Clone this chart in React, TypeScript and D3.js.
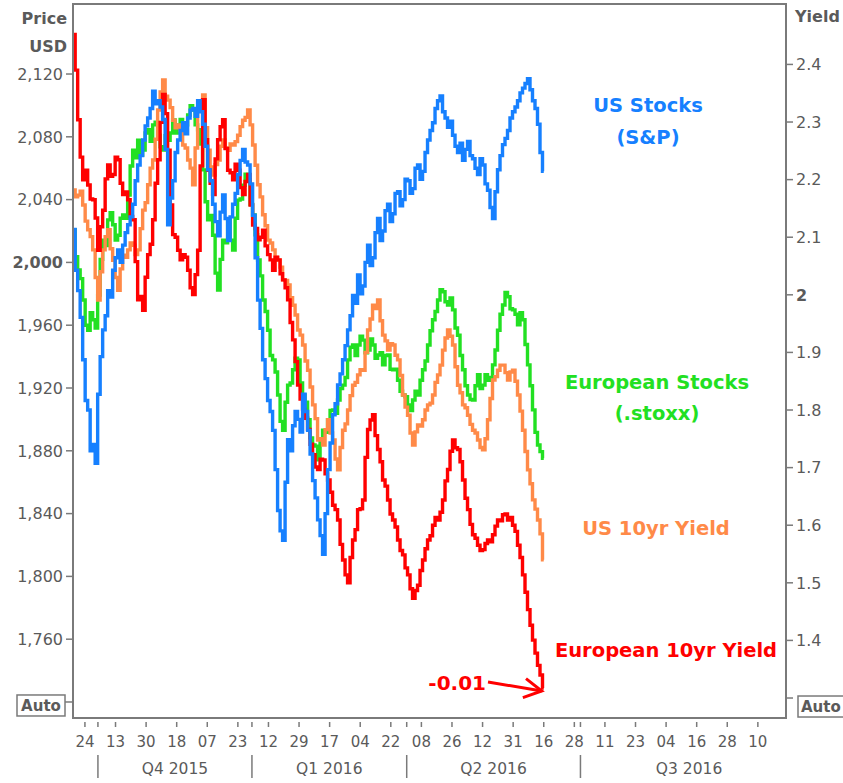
import { useEffect, useRef } from "react";
import * as d3 from "d3";

const W = 843;
const H = 783;
const plot = { left: 73, right: 786, top: 4, bottom: 718 };

// x axis is in "tick units": each labelled tick is one step
const xTickLabels = ["24", "13", "30", "18", "07", "23", "12", "29", "17", "04", "22", "08", "26", "12", "31", "16", "28", "11", "23", "04", "16", "28", "10"];
const xDomain = [-0.39, 22.92];
const quarterBreaks = [0.425, 5.46, 10.52, 16.2];
const quarterLabels = ["Q4 2015", "Q1 2016", "Q2 2016", "Q3 2016"];
const quarterEnd = 23.3;
const seriesStart = -0.36;
const seriesEnd = 15.0;

const priceTicks = [2120, 2080, 2040, 2000, 1960, 1920, 1880, 1840, 1800, 1760];
const priceAuto = 1720;
const yieldTicks = [2.4, 2.3, 2.2, 2.1, 2.0, 1.9, 1.8, 1.7, 1.6, 1.5, 1.4];
const yieldAuto = 1.3;

// S&P 500 (left axis, USD)
const usStocks = [
  2021, 1995, 1982, 1965, 1938, 1912, 1906, 1880, 1884, 1872,
  1916, 1940, 1957, 1966, 1982, 1978, 1995, 2003, 2008, 2000,
  2011, 2019, 2024, 2029, 2037, 2052, 2062, 2068, 2078, 2087,
  2092, 2098, 2109, 2101, 2103, 2099, 2091, 2072, 2024, 2041,
  2052, 2070, 2078, 2084, 2089, 2082, 2092, 2097, 2098, 2093,
  2103, 2096, 2088, 2074, 2059, 2052, 2037, 2026, 2017, 2032,
  2043, 2028, 2014, 2029, 2037, 2044, 2056, 2065, 2072, 2064,
  2062, 2050, 2030, 2003, 1976, 1958, 1938, 1926, 1912, 1905,
  1893, 1868, 1842, 1829, 1823, 1860, 1887, 1880, 1896, 1905,
  1900, 1892, 1916, 1905, 1893, 1878, 1861, 1850, 1836, 1826,
  1814, 1840, 1868, 1885, 1903, 1910, 1922, 1929, 1938, 1947,
  1957, 1966, 1979, 1974, 1992, 1980, 1985, 2000, 2011, 1998,
  2003, 2019, 2028, 2014, 2020, 2033, 2037, 2026, 2031, 2044,
  2045, 2036, 2040, 2053, 2052, 2044, 2047, 2060, 2062, 2053,
  2058, 2070, 2078, 2084, 2089, 2098, 2103, 2106, 2096, 2092,
  2086, 2090, 2081, 2074, 2070, 2076, 2065, 2072, 2077, 2068,
  2066, 2060, 2056, 2066, 2062, 2050, 2046, 2035, 2028, 2045,
  2059, 2068, 2075, 2079, 2084, 2092, 2096, 2099, 2103, 2108,
  2111, 2114, 2117, 2110, 2103, 2098, 2088, 2070, 2058,
];

// STOXX 600 (hidden scale)
const euStocks = [
  358.9, 354.0, 351.6, 350.0, 346.1, 341.5, 340.6, 343.8, 342.5, 341.0,
  347.0, 353.5, 357.0, 356.0, 360.7, 362.0, 359.8, 357.0, 357.9, 361.0,
  361.6, 361.0, 365.2, 370.5, 373.4, 372.0, 375.2, 372.5, 373.4, 376.5,
  377.1, 375.0, 378.0, 378.5, 376.1, 374.0, 373.4, 376.0, 375.2, 376.5,
  378.9, 376.5, 378.0, 379.0, 377.1, 378.0, 379.8, 381.5, 380.7, 378.0,
  377.1, 374.5, 369.8, 364.0, 360.7, 361.5, 357.9, 351.0, 347.9, 353.5,
  357.0, 356.5, 360.7, 357.0, 355.2, 361.0, 364.3, 364.5, 367.0, 369.0,
  368.0, 363.5, 361.6, 358.0, 353.4, 350.5, 346.1, 344.0, 340.6, 336.0,
  335.2, 333.0, 328.8, 324.0, 322.4, 327.5, 330.6, 331.0, 333.4, 335.5,
  335.2, 331.0, 328.8, 327.5, 324.3, 321.0, 319.7, 319.5, 317.0, 320.5,
  322.4, 322.0, 324.3, 326.0, 326.1, 325.5, 327.9, 330.0, 330.6, 332.0,
  335.2, 337.5, 337.9, 336.0, 337.9, 339.5, 338.8, 336.5, 337.0, 339.0,
  337.9, 335.5, 336.1, 336.5, 334.3, 336.0, 336.1, 333.5, 333.4, 333.5,
  331.5, 329.5, 328.8, 328.5, 327.0, 326.0, 327.9, 329.5, 328.8, 331.5,
  333.4, 335.0, 337.9, 340.5, 342.5, 344.0, 346.1, 348.0, 347.6, 345.8,
  345.2, 346.5, 344.3, 341.0, 339.7, 336.0, 333.4, 330.5, 328.8, 328.0,
  327.9, 330.5, 332.5, 330.0, 330.6, 332.5, 331.5, 332.0, 334.3, 337.0,
  340.6, 343.5, 345.2, 347.5, 346.7, 344.5, 344.3, 343.5, 341.6, 343.8,
  342.5, 338.0, 334.3, 330.5, 326.1, 322.0, 319.7, 318.5, 317.3,
];

// US 10yr yield (right axis, %)
const usYield = [
  2.182, 2.170, 2.173, 2.180, 2.156, 2.128, 2.113, 2.101, 2.078, 2.030,
  1.991, 2.040, 2.078, 2.101, 2.113, 2.080, 2.060, 2.030, 2.008, 2.045,
  2.069, 2.065, 2.078, 2.090, 2.086, 2.070, 2.078, 2.115, 2.147, 2.160,
  2.191, 2.220, 2.234, 2.270, 2.321, 2.352, 2.373, 2.345, 2.338, 2.325,
  2.303, 2.290, 2.295, 2.285, 2.260, 2.255, 2.234, 2.220, 2.191, 2.255,
  2.321, 2.337, 2.347, 2.290, 2.251, 2.222, 2.208, 2.226, 2.234, 2.258,
  2.269, 2.255, 2.251, 2.262, 2.260, 2.266, 2.277, 2.292, 2.303, 2.308,
  2.321, 2.295, 2.260, 2.225, 2.191, 2.170, 2.139, 2.120, 2.095, 2.090,
  2.078, 2.065, 2.060, 2.048, 2.026, 2.025, 2.017, 1.995, 1.982, 1.965,
  1.939, 1.930, 1.913, 1.885, 1.869, 1.840, 1.809, 1.785, 1.748, 1.750,
  1.739, 1.766, 1.783, 1.760, 1.748, 1.715, 1.696, 1.735, 1.765, 1.776,
  1.800, 1.825, 1.843, 1.848, 1.861, 1.870, 1.869, 1.900, 1.939, 1.958,
  1.982, 1.976, 1.991, 1.955, 1.930, 1.920, 1.904, 1.915, 1.913, 1.895,
  1.887, 1.860, 1.826, 1.805, 1.791, 1.760, 1.739, 1.762, 1.774, 1.772,
  1.783, 1.800, 1.809, 1.812, 1.826, 1.848, 1.861, 1.878, 1.904, 1.925,
  1.939, 1.928, 1.913, 1.875, 1.843, 1.830, 1.809, 1.804, 1.791, 1.775,
  1.765, 1.760, 1.748, 1.735, 1.731, 1.750, 1.783, 1.820, 1.852, 1.858,
  1.869, 1.878, 1.878, 1.865, 1.852, 1.866, 1.869, 1.850, 1.826, 1.798,
  1.765, 1.728, 1.696, 1.672, 1.644, 1.628, 1.609, 1.585, 1.540,
];

// German 10yr yield (hidden scale, %)
const euYield = [
  0.741, 0.700, 0.643, 0.600, 0.574, 0.585, 0.568, 0.552, 0.551, 0.530,
  0.493, 0.520, 0.539, 0.575, 0.591, 0.578, 0.580, 0.600, 0.597, 0.570,
  0.557, 0.560, 0.551, 0.532, 0.528, 0.480, 0.436, 0.440, 0.424, 0.462,
  0.488, 0.500, 0.528, 0.570, 0.597, 0.640, 0.672, 0.650, 0.608, 0.545,
  0.511, 0.508, 0.493, 0.482, 0.488, 0.485, 0.470, 0.450, 0.442, 0.465,
  0.493, 0.590, 0.666, 0.620, 0.585, 0.570, 0.557, 0.598, 0.620, 0.635,
  0.643, 0.610, 0.585, 0.582, 0.574, 0.592, 0.585, 0.565, 0.557, 0.572,
  0.580, 0.545, 0.522, 0.518, 0.505, 0.508, 0.516, 0.498, 0.488, 0.482,
  0.470, 0.485, 0.482, 0.466, 0.459, 0.450, 0.436, 0.410, 0.390, 0.365,
  0.338, 0.322, 0.310, 0.300, 0.287, 0.270, 0.258, 0.244, 0.241, 0.253,
  0.252, 0.236, 0.229, 0.215, 0.200, 0.195, 0.183, 0.155, 0.137, 0.120,
  0.111, 0.140, 0.160, 0.172, 0.195, 0.196, 0.206, 0.255, 0.287, 0.298,
  0.304, 0.280, 0.264, 0.250, 0.229, 0.222, 0.206, 0.190, 0.183, 0.175,
  0.160, 0.148, 0.143, 0.128, 0.120, 0.104, 0.093, 0.102, 0.108, 0.125,
  0.137, 0.150, 0.160, 0.165, 0.177, 0.186, 0.183, 0.192, 0.206, 0.228,
  0.241, 0.262, 0.275, 0.266, 0.264, 0.250, 0.229, 0.208, 0.195, 0.178,
  0.166, 0.162, 0.154, 0.148, 0.149, 0.156, 0.160, 0.158, 0.166, 0.176,
  0.183, 0.182, 0.189, 0.190, 0.183, 0.186, 0.177, 0.170, 0.154, 0.140,
  0.120, 0.100, 0.080, 0.062, 0.045, 0.030, 0.016, 0.005, -0.010,
];

const COLORS = {
  blue: "#1680ff",
  green: "#22e022",
  orange: "#ff8a48",
  red: "#ff0000",
  axis: "#7a7a7a",
  text: "#5a5a5a",
};

const FONT = "DejaVu Sans, Verdana, sans-serif";

export default function App() {
  const ref = useRef<SVGSVGElement>(null);

  useEffect(() => {
    const svg = d3.select(ref.current);
    if (!svg.node()) return;
    svg.selectAll("*").remove();

    const x = d3.scaleLinear().domain(xDomain).range([plot.left, plot.right]);
    const yPrice = d3.scaleLinear().domain([1709.8, 2164.6]).range([plot.bottom, plot.top]);
    const yYield = d3.scaleLinear().domain([1.2653, 2.5049]).range([plot.bottom, plot.top]);
    const yStoxx = d3.scaleLinear().domain([270, 400]).range([plot.bottom, plot.top]);
    const yBund = d3.scaleLinear().domain([-0.0445, 0.776]).range([plot.bottom, plot.top]);

    svg.append("rect").attr("width", W).attr("height", H).attr("fill", "#fff");

    svg
      .append("clipPath")
      .attr("id", "plotclip")
      .append("rect")
      .attr("x", plot.left)
      .attr("y", plot.top)
      .attr("width", plot.right - plot.left)
      .attr("height", plot.bottom - plot.top);

    const lines = svg.append("g").attr("clip-path", "url(#plotclip)");
    const draw = (data: number[], y: d3.ScaleLinear<number, number>, color: string) => {
      const idx = d3.scaleLinear().domain([0, data.length - 1]).range([seriesStart, seriesEnd]);
      const gen = d3
        .line<number>()
        .x((_, i) => x(idx(i)))
        .y((d) => y(d))
        .curve(d3.curveStep);
      lines
        .append("path")
        .attr("d", gen(data))
        .attr("fill", "none")
        .attr("stroke", color)
        .attr("stroke-width", 3.4)
        .attr("stroke-linejoin", "miter");
    };
    draw(euStocks, yStoxx, COLORS.green);
    draw(usYield, yYield, COLORS.orange);
    draw(euYield, yBund, COLORS.red);
    draw(usStocks, yPrice, COLORS.blue);

    // frame
    svg
      .append("rect")
      .attr("x", plot.left)
      .attr("y", plot.top)
      .attr("width", plot.right - plot.left)
      .attr("height", plot.bottom - plot.top)
      .attr("fill", "none")
      .attr("stroke", COLORS.axis)
      .attr("stroke-width", 2);

    // left axis
    const left = svg.append("g");
    priceTicks.forEach((v) => {
      const yy = yPrice(v);
      left.append("line").attr("x1", plot.left - 7).attr("x2", plot.left).attr("y1", yy).attr("y2", yy).attr("stroke", COLORS.axis).attr("stroke-width", 1.5);
      left
        .append("text")
        .attr("x", plot.left - 10)
        .attr("y", yy)
        .attr("dy", "0.36em")
        .attr("text-anchor", "end")
        .attr("font-family", FONT)
        .attr("font-size", 16)
        .attr("font-weight", v === 2000 ? 700 : 400)
        .attr("fill", COLORS.text)
        .text(d3.format(",")(v));
    });
    const ya = yPrice(priceAuto);
    left.append("line").attr("x1", plot.left - 8).attr("x2", plot.left).attr("y1", ya).attr("y2", ya).attr("stroke", COLORS.axis).attr("stroke-width", 1.5);
    left.append("rect").attr("x", 17).attr("y", ya - 7).attr("width", 48).attr("height", 21).attr("fill", "#fff").attr("stroke", COLORS.axis).attr("stroke-width", 1.5);
    left.append("text").attr("x", 41).attr("y", ya + 9).attr("text-anchor", "middle").attr("font-family", FONT).attr("font-size", 15).attr("font-weight", 700).attr("fill", COLORS.text).text("Auto");
    left.append("text").attr("x", 67).attr("y", 24).attr("text-anchor", "end").attr("font-family", FONT).attr("font-size", 16).attr("font-weight", 700).attr("fill", COLORS.text).text("Price");
    left.append("text").attr("x", 67).attr("y", 52).attr("text-anchor", "end").attr("font-family", FONT).attr("font-size", 16).attr("font-weight", 700).attr("fill", COLORS.text).text("USD");

    // right axis
    const right = svg.append("g");
    yieldTicks.forEach((v) => {
      const yy = yYield(v);
      right.append("line").attr("x1", plot.right).attr("x2", plot.right + 7).attr("y1", yy).attr("y2", yy).attr("stroke", COLORS.axis).attr("stroke-width", 1.5);
      right
        .append("text")
        .attr("x", plot.right + 10)
        .attr("y", yy)
        .attr("dy", "0.36em")
        .attr("font-family", FONT)
        .attr("font-size", 16)
        .attr("font-weight", v === 2 ? 700 : 400)
        .attr("fill", COLORS.text)
        .text(d3.format("~g")(v));
    });
    const yr = yYield(yieldAuto);
    right.append("line").attr("x1", plot.right).attr("x2", plot.right + 7).attr("y1", yr).attr("y2", yr).attr("stroke", COLORS.axis).attr("stroke-width", 1.5);
    right.append("rect").attr("x", 798).attr("y", yr - 2).attr("width", 52).attr("height", 21).attr("fill", "#fff").attr("stroke", COLORS.axis).attr("stroke-width", 1.5);
    right.append("text").attr("x", 801).attr("y", yr + 14).attr("font-family", FONT).attr("font-size", 15).attr("font-weight", 700).attr("fill", COLORS.text).text("Auto");
    right.append("text").attr("x", 795).attr("y", 22).attr("font-family", FONT).attr("font-size", 16).attr("font-weight", 700).attr("fill", COLORS.text).text("Yield");

    // bottom axis
    const bottom = svg.append("g");
    xTickLabels.forEach((lab, k) => {
      const xx = x(k);
      bottom.append("line").attr("x1", xx).attr("x2", xx).attr("y1", plot.bottom + 4).attr("y2", plot.bottom + 9).attr("stroke", COLORS.axis).attr("stroke-width", 1.5);
      bottom.append("text").attr("x", xx).attr("y", plot.bottom + 29).attr("text-anchor", "middle").attr("font-family", FONT).attr("font-size", 15).attr("fill", COLORS.text).text(lab);
    });
    quarterBreaks.forEach((k, i) => {
      const xx = x(k);
      bottom.append("line").attr("x1", xx).attr("x2", xx).attr("y1", plot.bottom + 4).attr("y2", plot.bottom + 9).attr("stroke", COLORS.axis).attr("stroke-width", 1.5);
      bottom.append("line").attr("x1", xx).attr("x2", xx).attr("y1", plot.bottom + 37).attr("y2", plot.bottom + 60).attr("stroke", COLORS.axis).attr("stroke-width", 1.5);
      const next = i < quarterBreaks.length - 1 ? quarterBreaks[i + 1] : quarterEnd;
      bottom
        .append("text")
        .attr("x", (xx + x(next)) / 2)
        .attr("y", plot.bottom + 56)
        .attr("text-anchor", "middle")
        .attr("font-family", FONT)
        .attr("font-size", 15.5)
        .attr("fill", COLORS.text)
        .text(quarterLabels[i]);
    });

    // series labels
    const label = (txt: string, xx: number, yy: number, color: string) =>
      svg
        .append("text")
        .attr("x", xx)
        .attr("y", yy)
        .attr("text-anchor", "middle")
        .attr("font-family", FONT)
        .attr("font-size", 19.5)
        .attr("font-weight", 700)
        .attr("fill", color)
        .text(txt);
    label("US Stocks", 648, 112, COLORS.blue);
    label("(S&P)", 648, 144, COLORS.blue);
    label("European Stocks", 657, 389, COLORS.green);
    label("(.stoxx)", 657, 420, COLORS.green);
    label("US 10yr Yield", 656, 535, COLORS.orange);
    label("European 10yr Yield", 666, 657, COLORS.red);

    // -0.01 annotation with arrow to the last point
    const tipX = x(seriesEnd) - 2;
    const tipY = yBund(euYield[euYield.length - 1]) + 3;
    const sx = 488;
    const sy = 682;
    svg.append("text").attr("x", sx - 2).attr("y", 690).attr("text-anchor", "end").attr("font-family", FONT).attr("font-size", 20).attr("font-weight", 700).attr("fill", COLORS.red).text("-0.01");
    const ang = Math.atan2(tipY - sy, tipX - sx);
    const hl = 20;
    const spread = 0.5;
    const p1: [number, number] = [tipX - hl * Math.cos(ang - spread), tipY - hl * Math.sin(ang - spread)];
    const p2: [number, number] = [tipX - hl * Math.cos(ang + spread), tipY - hl * Math.sin(ang + spread)];
    svg.append("line").attr("x1", sx).attr("y1", sy).attr("x2", tipX).attr("y2", tipY).attr("stroke", COLORS.red).attr("stroke-width", 3);
    svg
      .append("path")
      .attr("d", d3.line()([p1, [tipX, tipY], p2]))
      .attr("fill", "none")
      .attr("stroke", COLORS.red)
      .attr("stroke-width", 3);
  }, []);

  return (
    <svg
      ref={ref}
      width={W}
      height={H}
      style={{ position: "absolute", left: 0, top: 0, display: "block" }}
    />
  );
}
